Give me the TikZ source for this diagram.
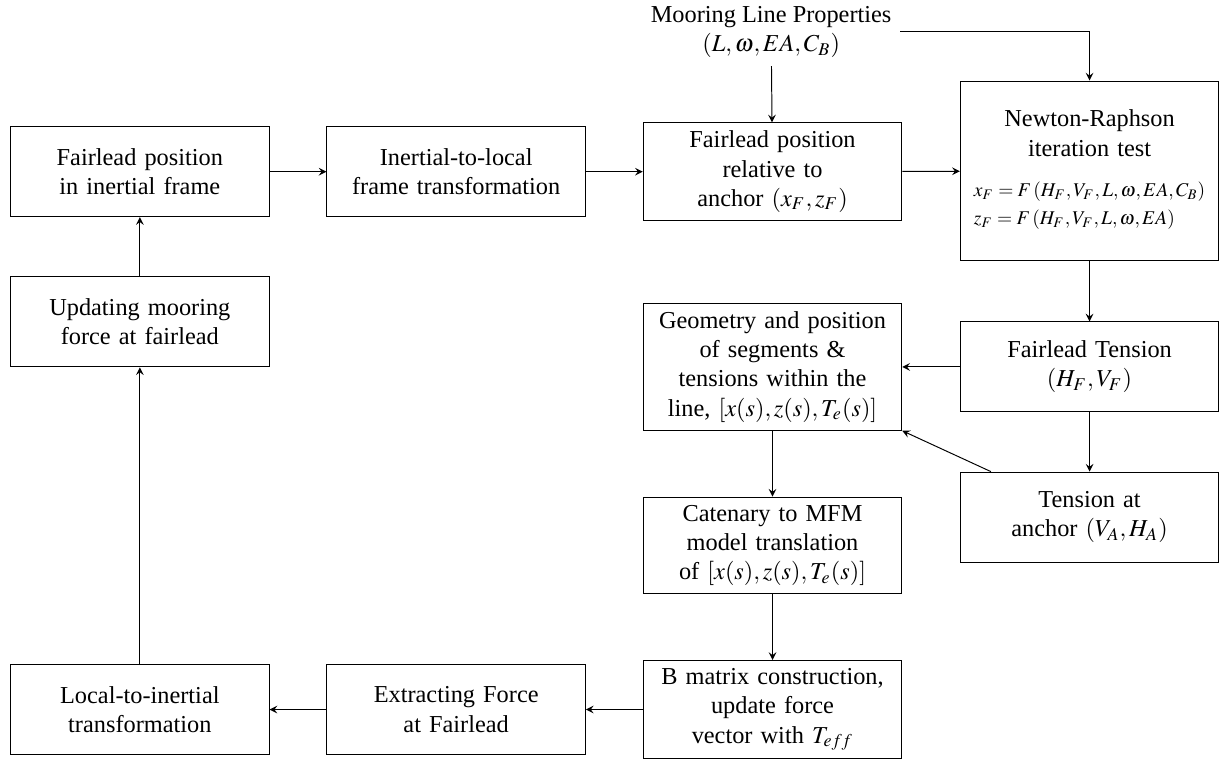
\documentclass[tikz,border=0pt]{standalone}
\usepackage{mathptmx}
\usepackage[no-math]{fontspec}
\setmainfont{Liberation Serif}
\usetikzlibrary{arrows}
\begin{document}
\begin{tikzpicture}[>=stealth,
	block/.style={draw, text width=3.5cm, align=center, minimum height=1.3cm}]
	\useasboundingbox (0, 0) rectangle (17.61, -11.02);
	\node[align=center] at (11.14, -0.46) (props) {Mooring Line Properties\\$(L, \omega, EA, C_B)$};
	\node[block] at (2.02, -2.48) (inertial) {Fairlead position\\in inertial frame};
	\node[block] at (6.59, -2.48) (local) {Inertial-to-local\\frame transformation};
	\node[block] at (11.16, -2.48) (relative) {Fairlead position\\relative to\\anchor $(x_F, z_F)$};
	\node[block, minimum height=2.6cm] at (15.74, -2.47) (newton) {Newton-Raphson\\iteration test\\[9pt]
		\footnotesize\begin{tabular}{@{}l@{}}
			$x_F = F\left(H_F, V_F, L, \omega, EA, C_B\right)$\\[2pt]
			$z_F = F\left(H_F, V_F, L, \omega, EA\right)$
		\end{tabular}};
	\node[block] at (2.02, -4.65) (update) {Updating mooring\\force at fairlead};
	\node[block] at (11.16, -5.30) (geometry) {Geometry and position\\of segments \&\\tensions within the\\line, $[x(s), z(s), T_e(s)]$};
	\node[block] at (15.74, -5.30) (tension) {Fairlead Tension\\$(H_F, V_F)$};
	\node[block] at (15.74, -7.47) (anchor) {Tension at\\anchor $(V_A, H_A)$};
	\node[block] at (11.16, -7.88) (catenary) {Catenary to MFM\\model translation\\of $[x(s), z(s), T_e(s)]$};
	\node[block] at (11.16, -10.25) (bmatrix) {B matrix construction,\\update force\\vector with $T_{eff}$};
	\node[block] at (6.59, -10.25) (extract) {Extracting Force\\at Fairlead};
	\node[block] at (2.02, -10.25) (toinertial) {Local-to-inertial\\transformation};
	\draw[->] (inertial) -- (local);
	\draw[->] (local) -- (relative);
	\draw[->] (relative) -- (newton);
	\draw[->] (props) -- (relative);
	\draw[->] (props.east) -| (newton.north);
	\draw[->] (newton) -- (tension);
	\draw[->] (tension) -- (geometry);
	\draw[->] (tension) -- (anchor);
	\draw[->] (anchor) -- (geometry.south east);
	\draw[->] (geometry) -- (catenary);
	\draw[->] (catenary) -- (bmatrix);
	\draw[->] (bmatrix) -- (extract);
	\draw[->] (extract) -- (toinertial);
	\draw[->] (toinertial) -- (update);
	\draw[->] (update) -- (inertial);
\end{tikzpicture}
\end{document}
